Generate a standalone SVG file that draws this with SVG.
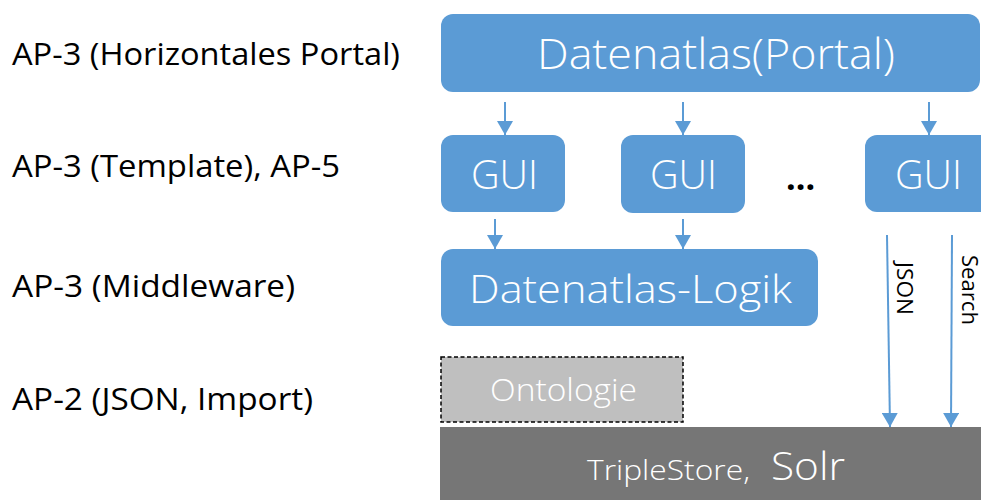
<svg xmlns="http://www.w3.org/2000/svg" width="981" height="500" viewBox="0 0 981 500">
  <style>
    .lbl { font-family: "Open Sans", "Liberation Sans", sans-serif; font-size: 31px; fill: #000; }
    .nodetxt { font-family: "Open Sans", "Liberation Sans", sans-serif; font-weight: 300; fill: #fff; }
    .blue { fill: #5B9BD5; }
    .conn { stroke: #5B9BD5; stroke-width: 2; fill: none; marker-end: url(#arrow); }
    .side { font-family: "Open Sans", "Liberation Sans", sans-serif; font-size: 22px; fill: #000; }
  </style>
  <defs>
    <marker id="arrow" viewBox="0 0 14 16" refX="14" refY="8" markerWidth="14" markerHeight="16" markerUnits="userSpaceOnUse" orient="auto">
      <path d="M0,0 L14,8 L0,16 Z" fill="#5B9BD5"/>
    </marker>
  </defs>

  <rect width="981" height="500" fill="#fff"/>

  <!-- layer labels -->
  <g id="labels">
    <text class="lbl" x="12" y="65" textLength="388" lengthAdjust="spacingAndGlyphs">AP-3 (Horizontales Portal)</text>
    <text class="lbl" x="12" y="177" textLength="328" lengthAdjust="spacingAndGlyphs">AP-3 (Template), AP-5</text>
    <text class="lbl" x="12" y="297" textLength="283" lengthAdjust="spacingAndGlyphs">AP-3 (Middleware)</text>
    <text class="lbl" x="12" y="410" textLength="301" lengthAdjust="spacingAndGlyphs">AP-2 (JSON, Import)</text>
  </g>

  <g id="portal">
    <rect class="blue" x="441" y="14" width="539" height="78" rx="12"/>
    <text class="nodetxt" x="537" y="69" font-size="43" textLength="358" lengthAdjust="spacingAndGlyphs">Datenatlas(Portal)</text>
  </g>

  <g id="gui1">
    <rect class="blue" x="441" y="135" width="124" height="77" rx="12"/>
    <text class="nodetxt" x="471" y="189" font-size="41" textLength="67" lengthAdjust="spacingAndGlyphs">GUI</text>
  </g>
  <g id="gui2">
    <rect class="blue" x="621" y="135" width="124" height="78" rx="12"/>
    <text class="nodetxt" x="650" y="189" font-size="41" textLength="67" lengthAdjust="spacingAndGlyphs">GUI</text>
  </g>
  <g id="ellipsis">
    <text x="786" y="190" font-family="Open Sans, Liberation Sans, sans-serif" font-size="34" font-weight="bold" fill="#000">...</text>
  </g>
  <g id="gui3">
    <rect class="blue" x="865" y="135" width="130" height="77" rx="12"/>
    <text class="nodetxt" x="895" y="189" font-size="41" textLength="67" lengthAdjust="spacingAndGlyphs">GUI</text>
  </g>

  <g id="logik">
    <rect class="blue" x="441" y="249" width="377" height="77" rx="12"/>
    <text class="nodetxt" x="469" y="303" font-size="39" textLength="323" lengthAdjust="spacingAndGlyphs">Datenatlas-Logik</text>
  </g>

  <g id="ontologie">
    <rect x="441" y="357" width="242" height="65" fill="#BFBFBF" stroke="#000" stroke-width="1.5" stroke-dasharray="4 2.5"/>
    <text class="nodetxt" x="490" y="401" font-size="32" textLength="147" lengthAdjust="spacingAndGlyphs">Ontologie</text>
  </g>

  <g id="triplestore">
    <rect x="440" y="427" width="545" height="80" fill="#767676"/>
    <text class="nodetxt" x="587" y="480" font-size="28" textLength="163" lengthAdjust="spacingAndGlyphs">TripleStore,</text>
    <text class="nodetxt" x="771" y="480" font-size="39" textLength="74" lengthAdjust="spacingAndGlyphs">Solr</text>
  </g>

  <g id="connectors">
    <line class="conn" x1="505" y1="102" x2="505" y2="135"/>
    <line class="conn" x1="683" y1="102" x2="683" y2="135"/>
    <line class="conn" x1="929" y1="102" x2="929" y2="135"/>
    <line class="conn" x1="495" y1="219" x2="495" y2="249"/>
    <line class="conn" x1="683" y1="219" x2="683" y2="249"/>
    <line class="conn" x1="887" y1="235" x2="890" y2="427"/>
    <line class="conn" x1="952" y1="235" x2="951" y2="427"/>
    <text class="side" transform="translate(897,262) rotate(90)" textLength="53" lengthAdjust="spacingAndGlyphs">JSON</text>
    <text class="side" transform="translate(962,255) rotate(90)" textLength="70" lengthAdjust="spacingAndGlyphs">Search</text>
  </g>
</svg>
